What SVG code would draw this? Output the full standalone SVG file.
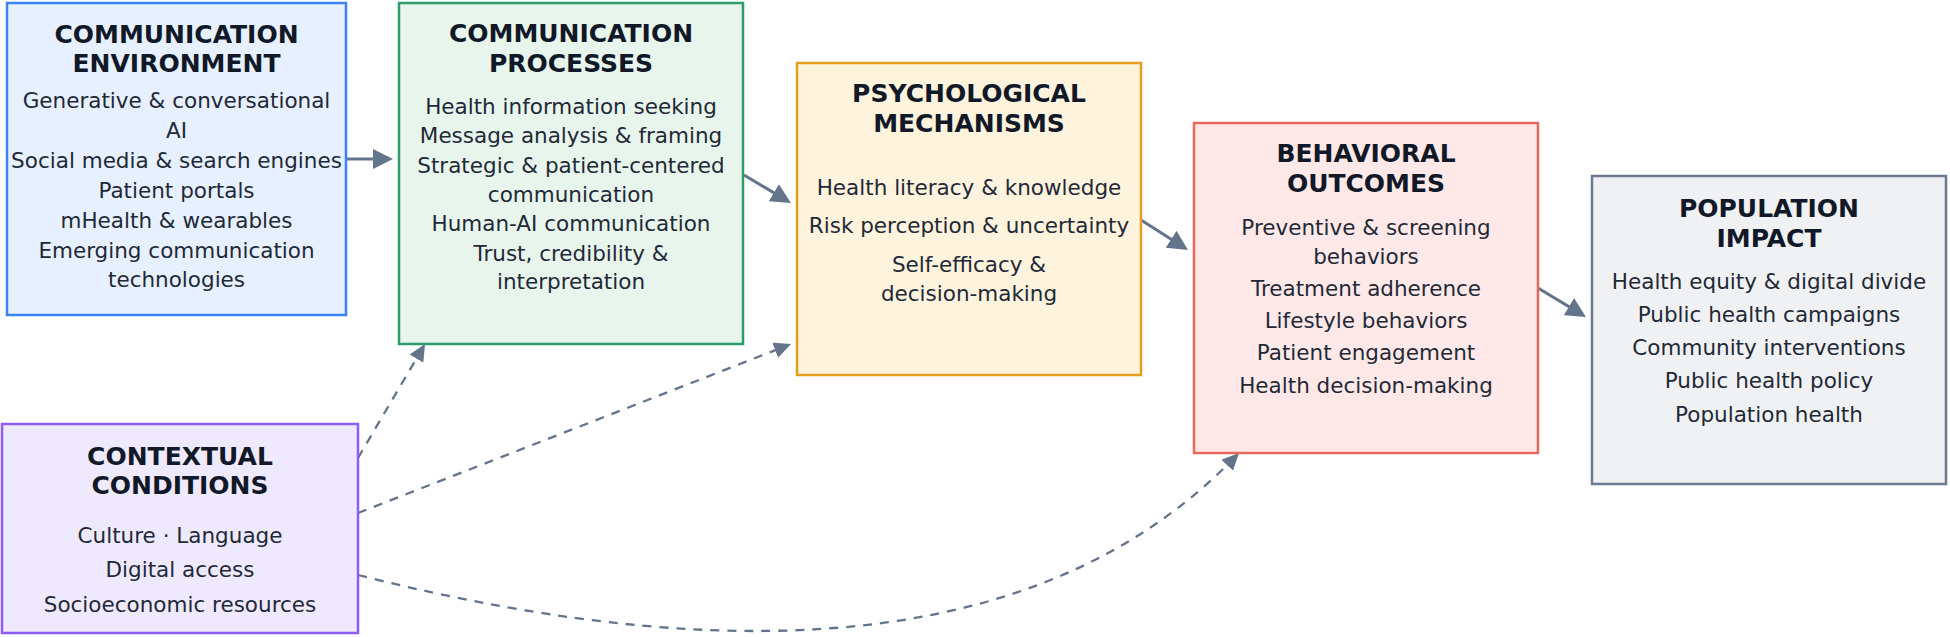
<svg xmlns="http://www.w3.org/2000/svg" width="1950" height="637" viewBox="0 0 1950 637">
<style>
.box{stroke-width:2.5}
.t{font-family:"DejaVu Sans",sans-serif;font-weight:bold;font-size:25px;fill:#111827;text-anchor:middle}
.b{font-family:"DejaVu Sans",sans-serif;font-size:21.5px;fill:#1f2937;text-anchor:middle}
.solid{stroke:#64748b;stroke-width:3;fill:none}
.dash{stroke:#64748b;stroke-width:2.3;fill:none;stroke-dasharray:9 8}
</style>
<defs>
<marker id="ah" markerUnits="userSpaceOnUse" viewBox="0 0 20 20" refX="15" refY="10" markerWidth="20" markerHeight="20" orient="auto">
<path d="M0,0 L20,10 L0,20 z" fill="#64748b"/>
</marker>
<marker id="ahd" markerUnits="userSpaceOnUse" viewBox="0 0 17 16" refX="13" refY="8" markerWidth="17" markerHeight="16" orient="auto">
<path d="M0,0 L17,8 L0,16 z" fill="#64748b"/>
</marker>
</defs>
<rect width="1950" height="637" fill="#ffffff"/>
<g id="connectors">
<line class="solid" x1="346" y1="159" x2="388" y2="159" marker-end="url(#ah)"/>
<line class="solid" x1="744" y1="175" x2="786.7" y2="200.4" marker-end="url(#ah)"/>
<line class="solid" x1="1141" y1="220" x2="1183.8" y2="247.3" marker-end="url(#ah)"/>
<line class="solid" x1="1538" y1="288" x2="1581.7" y2="314.4" marker-end="url(#ah)"/>
<line class="dash" x1="358" y1="458" x2="423" y2="347.4" marker-end="url(#ahd)"/>
<line class="dash" x1="358" y1="513" x2="787.3" y2="345.5" marker-end="url(#ahd)"/>
<path class="dash" d="M358,575 Q972,730 1236.2,455.9" marker-end="url(#ahd)"/>
</g>
<g id="communication-environment">
<rect class="box" x="7" y="3" width="339" height="312" fill="#e7f0fe" stroke="#3b82f6"/>
<text class="t" x="176.5" y="43">COMMUNICATION</text>
<text class="t" x="176.5" y="72">ENVIRONMENT</text>
<text class="b" x="176.5" y="108">Generative &amp; conversational</text>
<text class="b" x="176.5" y="138">AI</text>
<text class="b" x="176.5" y="168">Social media &amp; search engines</text>
<text class="b" x="176.5" y="198">Patient portals</text>
<text class="b" x="176.5" y="228">mHealth &amp; wearables</text>
<text class="b" x="176.5" y="258">Emerging communication</text>
<text class="b" x="176.5" y="287">technologies</text>
</g>
<g id="communication-processes">
<rect class="box" x="399" y="3" width="344" height="341" fill="#e8f5ec" stroke="#2a9d6a"/>
<text class="t" x="571" y="42">COMMUNICATION</text>
<text class="t" x="571" y="72">PROCESSES</text>
<text class="b" x="571" y="114">Health information seeking</text>
<text class="b" x="571" y="143">Message analysis &amp; framing</text>
<text class="b" x="571" y="173">Strategic &amp; patient-centered</text>
<text class="b" x="571" y="202">communication</text>
<text class="b" x="571" y="231">Human-AI communication</text>
<text class="b" x="571" y="261">Trust, credibility &amp;</text>
<text class="b" x="571" y="289">interpretation</text>
</g>
<g id="psychological-mechanisms">
<rect class="box" x="797" y="63" width="344" height="312" fill="#fef3dd" stroke="#e59f1e"/>
<text class="t" x="969" y="102">PSYCHOLOGICAL</text>
<text class="t" x="969" y="132">MECHANISMS</text>
<text class="b" x="969" y="195">Health literacy &amp; knowledge</text>
<text class="b" x="969" y="233">Risk perception &amp; uncertainty</text>
<text class="b" x="969" y="272">Self-efficacy &amp;</text>
<text class="b" x="969" y="301">decision-making</text>
</g>
<g id="behavioral-outcomes">
<rect class="box" x="1194" y="123" width="344" height="330" fill="#fee9e8" stroke="#e6685c"/>
<text class="t" x="1366" y="162">BEHAVIORAL</text>
<text class="t" x="1366" y="192">OUTCOMES</text>
<text class="b" x="1366" y="235">Preventive &amp; screening</text>
<text class="b" x="1366" y="264">behaviors</text>
<text class="b" x="1366" y="296">Treatment adherence</text>
<text class="b" x="1366" y="328">Lifestyle behaviors</text>
<text class="b" x="1366" y="360">Patient engagement</text>
<text class="b" x="1366" y="393">Health decision-making</text>
</g>
<g id="population-impact">
<rect class="box" x="1592" y="176" width="354" height="308" fill="#f0f1f3" stroke="#6b7a8f"/>
<text class="t" x="1769" y="217">POPULATION</text>
<text class="t" x="1769" y="247">IMPACT</text>
<text class="b" x="1769" y="289">Health equity &amp; digital divide</text>
<text class="b" x="1769" y="322">Public health campaigns</text>
<text class="b" x="1769" y="355">Community interventions</text>
<text class="b" x="1769" y="388">Public health policy</text>
<text class="b" x="1769" y="422">Population health</text>
</g>
<g id="contextual-conditions">
<rect class="box" x="2" y="424" width="356" height="209" fill="#efe9fe" stroke="#8b5cf6"/>
<text class="t" x="180" y="465">CONTEXTUAL</text>
<text class="t" x="180" y="494">CONDITIONS</text>
<text class="b" x="180" y="543">Culture · Language</text>
<text class="b" x="180" y="577">Digital access</text>
<text class="b" x="180" y="612">Socioeconomic resources</text>
</g>
</svg>
